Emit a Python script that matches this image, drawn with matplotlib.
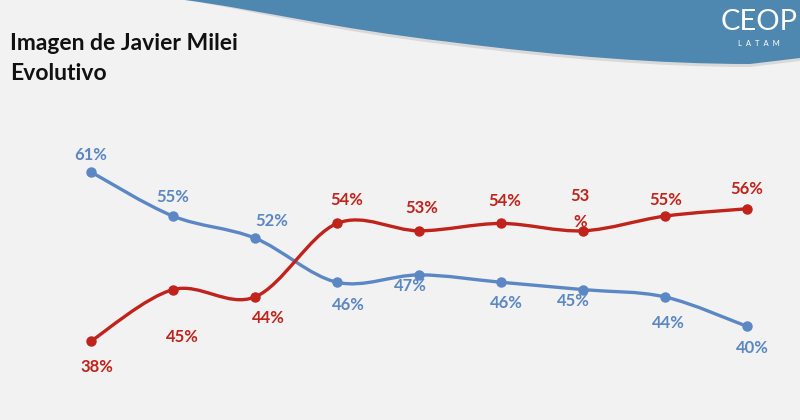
import numpy as np
import matplotlib.pyplot as plt
from matplotlib.path import Path
from matplotlib.patches import PathPatch

plt.rcParams['font.family'] = ['Lato', 'DejaVu Sans']

# data
waves = list(range(9))
positive = [61, 55, 52, 46, 47, 46, 45, 44, 40]
negative = [38, 45, 44, 54, 53, 54, 53, 55, 56]
positive_labels = [f'{v}%' for v in positive]
negative_labels = [f'{v}%' for v in negative]
negative_labels[6] = '53\n%'

blue = '#5b87c4'
red = '#c0231b'

# label offsets in pixels (dx, dy), dy positive = up
blue_off = [(0, 17), (0, 19), (17, 17), (11, -23), (-9, -11), (5, -21), (-10, -11), (3, -26), (5, -22)]
red_off = [(6, -26), (9, -47), (13, -21), (10, 23), (3, 23), (4, 22), (-3, 22), (1, 16), (0, 20)]


def smooth_path(xs, ys):
    # catmull-rom -> cubic bezier, like excel's smoothed line
    px = [xs[0]] + list(xs) + [xs[-1]]
    py = [ys[0]] + list(ys) + [ys[-1]]
    verts = [(xs[0], ys[0])]
    codes = [Path.MOVETO]
    for i in range(1, len(px) - 2):
        c1 = (px[i] + (px[i + 1] - px[i - 1]) / 6, py[i] + (py[i + 1] - py[i - 1]) / 6)
        c2 = (px[i + 1] - (px[i + 2] - px[i]) / 6, py[i + 1] - (py[i + 2] - py[i]) / 6)
        verts += [c1, c2, (px[i + 1], py[i + 1])]
        codes += [Path.CURVE4] * 3
    return Path(verts, codes)


fig = plt.figure(figsize=(8, 4.2), dpi=100)
fig.patch.set_facecolor('#f2f2f2')

# background wave
bg = fig.add_axes([0, 0, 1, 1])
bg.set_xlim(0, 800)
bg.set_ylim(420, 0)
bg.axis('off')
wave = Path([(185, 0), (260, 10), (330, 28), (450, 42), (560, 56), (660, 64), (750, 64), (800, 58),
             (800, 0), (185, 0)],
            [Path.MOVETO, Path.CURVE4, Path.CURVE4, Path.CURVE4, Path.CURVE4, Path.CURVE4, Path.CURVE4,
             Path.LINETO, Path.LINETO, Path.CLOSEPOLY])
shadow = Path([(185, 0), (260, 12), (330, 31), (450, 45), (560, 59), (660, 67), (750, 67), (800, 61),
               (800, 0), (185, 0)], wave.codes)
bg.add_patch(PathPatch(shadow, facecolor='#d9d9d9', edgecolor='none'))
bg.add_patch(PathPatch(wave, facecolor='#4e87b0', edgecolor='none'))

bg.text(759, 22, 'CEOP', color='white', fontsize=21, ha='center', va='center')
bg.text(759, 44, 'L  A  T  A  M', color='white', fontsize=5.5, ha='center', va='center')

bg.text(10, 44, 'Imagen de Javier Milei', fontsize=16.5, fontweight='bold', va='center', color='#111111')
bg.text(10, 73, 'Evolutivo', fontsize=16.5, fontweight='bold', va='center', color='#111111')

# chart
ax = fig.add_axes([0, 0, 1, 1])
ax.patch.set_alpha(0)
ax.axis('off')
ax.set_xlim(-91 / 82, 8 + 53 / 82)
ax.set_ylim(61 - 248 / 7.35, 61 + 172 / 7.35)

for vals, col in [(positive, blue), (negative, red)]:
    ax.add_patch(PathPatch(smooth_path(waves, vals), facecolor='none', edgecolor=col, lw=2.4,
                           capstyle='round'))
    ax.plot(waves, vals, 'o', color=col, ms=6.5, zorder=3)

for x, v, lab, off in zip(waves, positive, positive_labels, blue_off):
    ax.annotate(lab, (x, v), xytext=off, textcoords='offset pixels', ha='center', va='center',
                color=blue, fontsize=12, fontweight='bold')
for x, v, lab, off in zip(waves, negative, negative_labels, red_off):
    ax.annotate(lab, (x, v), xytext=off, textcoords='offset pixels', ha='center', va='center',
                color=red, fontsize=12, fontweight='bold', linespacing=1.8)

fig.savefig('out.png', dpi=100, facecolor=fig.get_facecolor())
